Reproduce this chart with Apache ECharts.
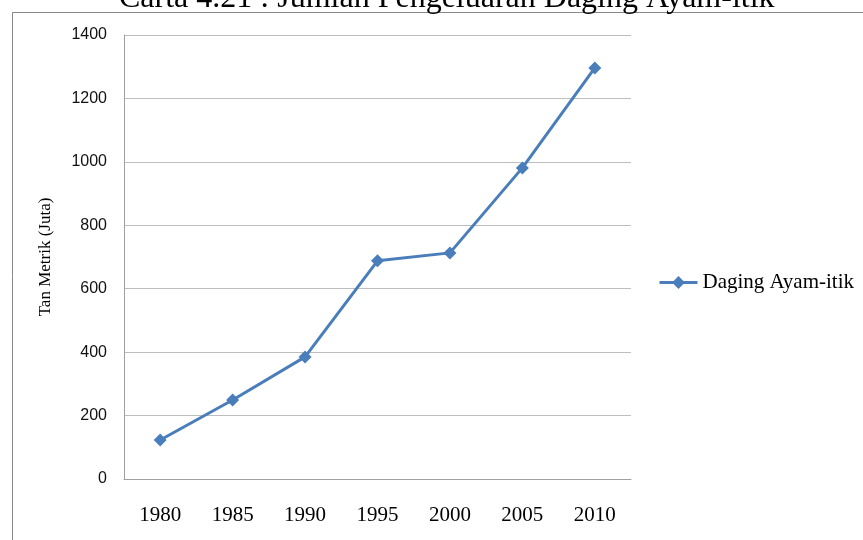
<!DOCTYPE html>
<html>
<head>
<meta charset="utf-8">
<script src="https://cdn.jsdelivr.net/npm/echarts@6/dist/echarts.min.js"></script>
<style>html,body{margin:0;padding:0;background:#fff}#c{width:863px;height:540px}</style>
</head>
<body>
<div id="c"></div>
<script>
var titleText = 'Carta 4.21 : Jumlah Pengeluaran Daging Ayam-itik';
var yAxisName = 'Tan Metrik (Juta)';
var seriesName = 'Daging Ayam-itik';
var years = ['1980', '1985', '1990', '1995', '2000', '2005', '2010'];
var values = [123, 249, 385, 688, 713, 981, 1296];
var yTicks = { min: 0, max: 1400, interval: 200 };

var chart = echarts.init(document.getElementById('c'), null, { renderer: 'canvas' });
chart.setOption({
  animation: false,
  backgroundColor: '#fff',
  graphic: [
    { type: 'rect', shape: { x: 12.5, y: 12.5, width: 900, height: 600 }, style: { fill: 'none', stroke: '#878787', lineWidth: 1 }, z: 0 },
    { type: 'text', left: 119, top: -17, style: { text: titleText, font: '32px "Liberation Serif"', fill: '#000' }, z: 10 }
  ],
  grid: { left: 124, right: 232, top: 35, bottom: 61, containLabel: false },
  legend: {
    data: [seriesName],
    left: 653, top: 267,
    itemWidth: 38, itemHeight: 16,
    lineStyle: { width: 3 },
    textStyle: { fontFamily: 'Liberation Serif', fontSize: 21, color: '#000' }
  },
  xAxis: {
    type: 'category',
    data: years,
    boundaryGap: true,
    axisLine: { lineStyle: { color: '#a0a0a0', width: 1 } },
    axisTick: { show: false },
    axisLabel: { color: '#000', fontFamily: 'Liberation Serif', fontSize: 21, margin: 26 }
  },
  yAxis: {
    type: 'value',
    min: yTicks.min, max: yTicks.max, interval: yTicks.interval,
    name: yAxisName, nameLocation: 'middle', nameGap: 70,
    nameTextStyle: { fontFamily: 'Liberation Serif', fontSize: 17, color: '#000' },
    axisLine: { show: true, lineStyle: { color: '#a0a0a0', width: 1 } },
    axisTick: { show: false },
    splitLine: { lineStyle: { color: '#bdbdbd', width: 1 } },
    axisLabel: { color: '#111', fontFamily: 'Liberation Sans', fontSize: 16, margin: 17, formatter: function (v) { return String(v); } }
  },
  series: [{
    name: seriesName,
    type: 'line',
    data: values,
    symbol: 'diamond', symbolSize: 13,
    lineStyle: { color: '#4a7ebb', width: 3 },
    itemStyle: { color: '#4a7ebb' }
  }]
});
</script>
</body>
</html>
